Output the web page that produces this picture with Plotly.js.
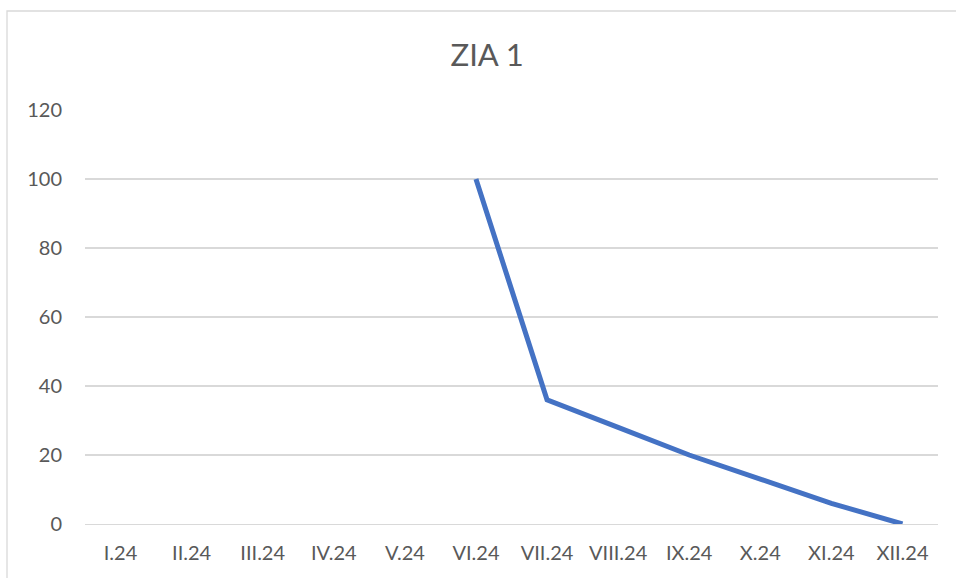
<!DOCTYPE html>
<html>
<head>
<meta charset="utf-8">
<script src="https://cdn.plot.ly/plotly-3.0.1.min.js"></script>
<style>
html,body{margin:0;padding:0;background:#fff;}
#chart{width:956px;height:578px;}
</style>
</head>
<body>
<div id="chart"></div>
<script>
const months = ["I.24","II.24","III.24","IV.24","V.24","VI.24","VII.24","VIII.24","IX.24","X.24","XI.24","XII.24"];
const values = [null,null,null,null,null,100,36,28,20,13,6,0];
const yTicks = [0,20,40,60,80,100,120];
const chartTitle = "ZIA 1";

const font = "Lato, 'Open Sans', sans-serif";
const trace = {
  x: months,
  y: values,
  type: "scatter",
  mode: "lines",
  line: {color: "#4472C4", width: 5},
  connectgaps: false,
  hoverinfo: "x+y"
};
const layout = {
  width: 956, height: 578,
  margin: {l: 85, r: 18, t: 110, b: 54},
  paper_bgcolor: "#ffffff",
  plot_bgcolor: "#ffffff",
  showlegend: false,
  title: {
    text: chartTitle,
    font: {family: font, size: 31, color: "#595959"},
    x: 0.5095, xref: "container", xanchor: "center",
    y: 0.905, yref: "container", yanchor: "middle"
  },
  xaxis: {
    type: "category",
    categoryorder: "array",
    categoryarray: months,
    range: [-0.5, 11.5],
    showgrid: false,
    zeroline: false,
    showline: true,
    linecolor: "#d9d9d9",
    linewidth: 1.3,
    ticks: "",
    ticklabelstandoff: 11,
    tickfont: {family: font, size: 20, color: "#595959"},
    fixedrange: true
  },
  yaxis: {
    range: [0, 120],
    tickvals: yTicks,
    ticktext: yTicks.map(String),
    showgrid: true,
    gridcolor: "#d9d9d9",
    gridwidth: 1.3,
    zeroline: false,
    showline: false,
    ticks: "",
    ticklabelstandoff: 22,
    tickfont: {family: font, size: 20, color: "#595959"},
    fixedrange: true
  },
  shapes: [{
    type: "rect", xref: "paper", yref: "paper",
    x0: (7 - 85) / 853, x1: (965 - 85) / 853,
    y0: (524 - 590) / 414, y1: (524 - 11) / 414,
    line: {color: "#d9d9d9", width: 1.3},
    fillcolor: "rgba(0,0,0,0)",
    layer: "below"
  }]
};
Plotly.newPlot("chart", [trace], layout, {displayModeBar: false, staticPlot: true});
</script>
</body>
</html>
